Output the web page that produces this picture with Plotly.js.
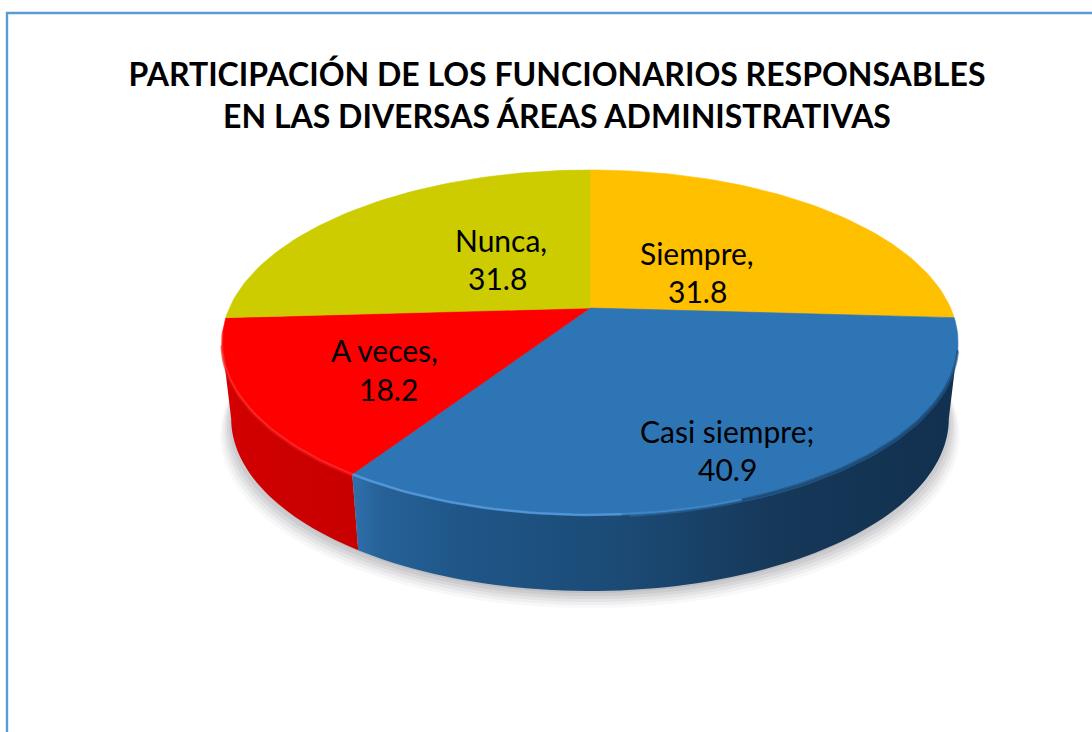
<!DOCTYPE html>
<html><head><meta charset="utf-8">
<script src="https://cdn.plot.ly/plotly-3.0.1.min.js"></script>
<style>html,body{margin:0;padding:0;background:#fff}#c{width:1092px;height:732px}</style>
</head><body><div id="c"></div>
<script>
const categories = ["Siempre", "Casi siempre", "A veces", "Nunca"];
const values = [31.8, 40.9, 18.2, 31.8];
const separators = [",", ";", ",", ","];
const topColors = ["#FFC000", "#2E75B6", "#FF0000", "#CCCC00"];
const chartTitle = "PARTICIPACIÓN DE LOS FUNCIONARIOS RESPONSABLES<br>EN LAS DIVERSAS ÁREAS ADMINISTRATIVAS";
const labelNameAt = [[697,253],[727,431],[384,350],[501,240]];
const labelValueAt = [[697,291],[727,469],[388,389],[497,278]];

// perspective view of the pie disc
const CX = 590, CY = 308, K = 360.6, PA = 104, PC = -0.2;
const DEPTH = 76, BOTTOM_SHRINK = 0.975;
const SILHOUETTE_R = 101.5, SILHOUETTE_L = 258.5;
function project(deg, scale, drop) {
  const t = deg * Math.PI / 180, u = Math.sin(t), v = -Math.cos(t), w = 1 + PC * v;
  return [CX + (scale || 1) * K * u / w, (PA * v + CY) / w + (drop || 0)];
}
function arc(a, b, scale, drop) {
  const n = Math.max(2, Math.ceil(Math.abs(b - a) / 1.5)), pts = [];
  for (let i = 0; i <= n; i++) pts.push(project(a + (b - a) * i / n, scale, drop));
  return pts;
}
const total = values.reduce((s, v) => s + v, 0);
let acc = 0;
const spans = values.map(v => { const a = acc; acc += v / total * 360; return [a, acc]; });

function poly(pts) { return { x: pts.map(p => p[0]), y: pts.map(p => p[1]) }; }
const base = { type: "scatter", hoverinfo: "skip", showlegend: false };
const traces = [];

// soft shadow under the disc
[[1.030, 93, .035], [1.024, 90, .05], [1.018, 87, .06], [1.012, 84, .07], [1.005, 81, .08], [0.995, 78, .09]].forEach(s => {
  const ring = arc(0, 360, s[0] * BOTTOM_SHRINK, s[1]);
  traces.push(Object.assign({}, base, poly(ring), {
    mode: "none", fill: "toself", fillcolor: "rgba(70,70,80," + s[2] + ")", name: "sombra"
  }));
});

// side walls (only the two front slices show), closed along the silhouette
const wallScales = {
  1: [[0, "#2F70AC"], [0.05, "#266197"], [0.18, "#1F5688"], [0.45, "#1B4A75"], [0.7, "#163859"], [1, "#12304F"]],
  2: [[0, "#D40000"], [0.5, "#CC0000"], [1, "#C80000"]]
};
[2, 1].forEach(i => {
  const a = Math.max(spans[i][0], SILHOUETTE_R), b = Math.min(spans[i][1], SILHOUETTE_L);
  const pts = arc(a, b).concat(arc(b, a, BOTTOM_SHRINK, DEPTH));
  pts.push(pts[0]);
  traces.push(Object.assign({}, base, poly(pts), {
    mode: "none", fill: "toself", name: categories[i] + " lateral",
    fillgradient: { type: "horizontal", colorscale: wallScales[i] }
  }));
});

// top faces
spans.forEach((s, i) => {
  const pts = [[CX, CY]].concat(arc(s[0], s[1]));
  pts.push([CX, CY]);
  traces.push(Object.assign({}, base, poly(pts), {
    mode: "lines", fill: "toself", fillcolor: topColors[i],
    line: { color: topColors[i], width: 0.6 }, name: categories[i]
  }));
});

// bevel along the front rim
function rim(a, b, color, width, drop) {
  traces.push(Object.assign({}, base, poly(arc(a, b, 1, drop || 0)), {
    mode: "lines", line: { color: color, width: width }, name: "bisel"
  }));
}
rim(104, 175, "rgba(46,117,182,.45)", 3, 1.5);
rim(176, 213.3, "rgba(91,160,225,.75)", 2.5);
rim(160, 176, "rgba(91,160,225,.35)", 2.5);
rim(213.3, 258, "rgba(240,20,20,.6)", 3, 1.5);
rim(213.3, 262, "rgba(255,60,60,.5)", 2);
rim(104, 160, "rgba(20,50,85,.45)", 2.5);

const annotations = [];
categories.forEach((c, i) => {
  const common = { xref: "x", yref: "y", showarrow: false, xanchor: "center", yanchor: "middle",
    font: { family: "Lato, Carlito, sans-serif", size: 30, color: "#000" } };
  annotations.push(Object.assign({}, common, { text: c + separators[i], x: labelNameAt[i][0], y: labelNameAt[i][1] }));
  annotations.push(Object.assign({}, common, { text: values[i].toFixed(1), x: labelValueAt[i][0], y: labelValueAt[i][1] }));
});

const frame = { type: "line", xref: "x", yref: "y", line: { color: "#5B9BD5", width: 2.4 } };
const layout = {
  width: 1092, height: 732,
  margin: { l: 0, r: 0, t: 0, b: 0 },
  paper_bgcolor: "#fff", plot_bgcolor: "#fff", showlegend: false,
  title: { text: "<b>" + chartTitle.replace("<br>", "</b><br><b>") + "</b>",
    x: 557 / 1092, xanchor: "center", y: 1 - 86 / 732, yanchor: "middle",
    font: { family: "Lato, Carlito, sans-serif", size: 32, color: "#000" } },
  xaxis: { range: [0, 1092], visible: false, fixedrange: true },
  yaxis: { range: [732, 0], visible: false, fixedrange: true },
  shapes: [
    Object.assign({}, frame, { x0: 6, x1: 1092, y0: 13, y1: 13 }),
    Object.assign({}, frame, { x0: 7, x1: 7, y0: 12, y1: 732 })
  ],
  annotations: annotations
};
Plotly.newPlot("c", traces, layout, { displayModeBar: false, staticPlot: true });
</script></body></html>
